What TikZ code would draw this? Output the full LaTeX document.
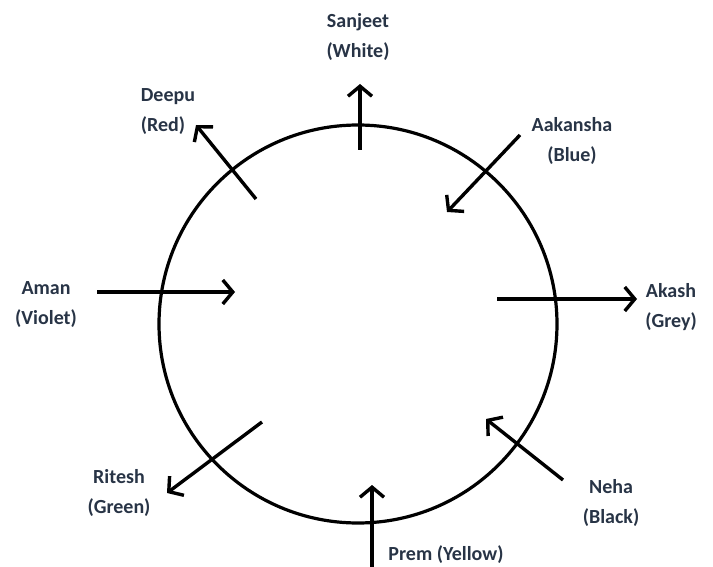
\documentclass[tikz,border=0pt]{standalone}
\usepackage{fontspec}
\setmainfont{Carlito}
\usetikzlibrary{arrows.meta}
\definecolor{labelcol}{RGB}{40,52,70}
\tikzset{
  ring/.style={line width=3.2pt},
  seat/.style={line width=3.4pt, -{Straight Barb[length=10pt,width=24pt,line width=3.4pt]}},
  seatlabel/.style={text=labelcol, font=\bfseries\fontsize{20}{30}\selectfont, align=center, inner sep=0pt}
}

\begin{document}
\begin{tikzpicture}[x=1pt,y=-1pt]
    \useasboundingbox (0,0) rectangle (713,567);

    \coordinate (o) at (358,324);
    \draw[ring] (o) circle (199);

    % top: Sanjeet
    \coordinate (s1) at (360,150);
    \coordinate (s2) at (360,84);
    \draw[seat] (s1) -- (s2);
    \node[seatlabel] (sanjeet) at (358,37) {Sanjeet\\(White)};

    % Deepu
    \coordinate (d1) at (256,199);
    \coordinate (d2) at (196,125);
    \draw[seat] (d1) -- (d2);
    \node[seatlabel, align=left] (deepu) at (168,112) {Deepu\\(Red)};

    % Aakansha
    \coordinate (a1) at (520,135);
    \coordinate (a2) at (447,212);
    \draw[seat] (a1) -- (a2);
    \node[seatlabel] (aakansha) at (572,141) {Aakansha\\(Blue)};

    % Aman
    \coordinate (m1) at (97,292);
    \coordinate (m2) at (235,292);
    \draw[seat] (m1) -- (m2);
    \node[seatlabel] (aman) at (46,305) {Aman\\(Violet)};

    % Akash
    \coordinate (k1) at (497,299);
    \coordinate (k2) at (637,299);
    \draw[seat] (k1) -- (k2);
    \node[seatlabel] (akash) at (671,307) {Akash\\(Grey)};

    % Ritesh
    \coordinate (r1) at (262,422);
    \coordinate (r2) at (167,493);
    \draw[seat] (r1) -- (r2);
    \node[seatlabel] (ritesh) at (119,493) {Ritesh\\(Green)};

    % Neha
    \coordinate (n1) at (563,480);
    \coordinate (n2) at (486,419);
    \draw[seat] (n1) -- (n2);
    \node[seatlabel] (neha) at (611,503) {Neha\\(Black)};

    % bottom: Prem
    \coordinate (p1) at (372,570);
    \coordinate (p2) at (372,485);
    \draw[seat] (p1) -- (p2);
    \node[seatlabel] (prem) at (446,555) {Prem (Yellow)};
\end{tikzpicture}
\end{document}
